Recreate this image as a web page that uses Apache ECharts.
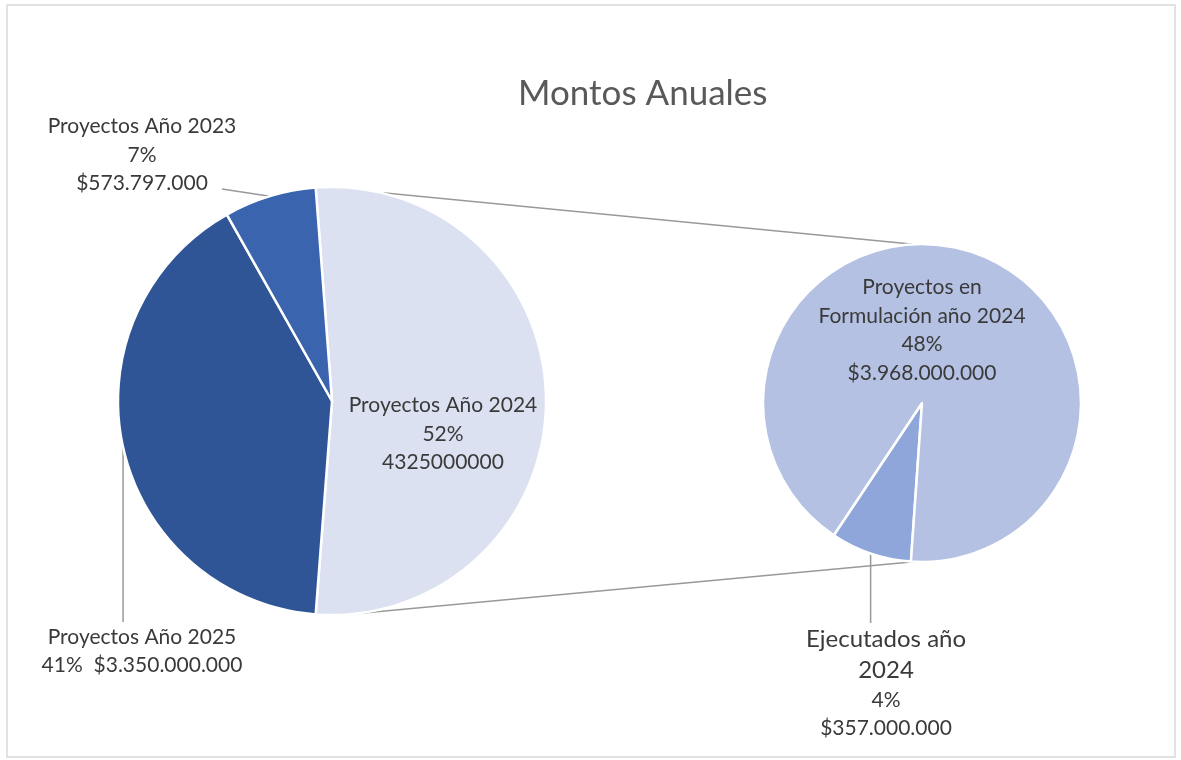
<!DOCTYPE html>
<html><head><meta charset="utf-8">
<script src="https://cdn.jsdelivr.net/npm/echarts@6/dist/echarts.min.js"></script>
<style>html,body{margin:0;padding:0;background:#fff}#c{width:1181px;height:760px}</style>
</head><body><div id="c"></div>
<script>
// ---- data ----
const chartTitle = 'Montos Anuales';
const mainNames = ['Proyectos Año 2024', 'Proyectos Año 2025', 'Proyectos Año 2023'];
const mainValues = [4325000000, 3350000000, 573797000];
const subNames = ['Ejecutados año\n2024', 'Proyectos en\nFormulación año 2024'];
const subValues = [357000000, 3968000000];

// ---- style / layout ----
const mainColors = ['#dbe1f1', '#2f5597', '#3b64ae'];
const subColors = ['#8fa6da', '#b4c1e3'];
const FONT = 'Lato';
const TXT = '#3a3a3a';
const mainCenter = [332, 401], mainR = 214;
const subCenter = [922, 403], subR = 159;

const grandTotal = mainValues.reduce((a, b) => a + b, 0);
const pct = v => Math.round(v / grandTotal * 100) + '%';
const money = v => '$' + String(v).replace(/\B(?=(\d{3})+(?!\d))/g, '.');

const mainLabelText = [
  i => mainNames[i] + '\n' + pct(mainValues[i]) + '\n' + mainValues[i],
  i => mainNames[i] + '\n' + pct(mainValues[i]) + '  ' + money(mainValues[i]),
  i => mainNames[i] + '\n' + pct(mainValues[i]) + '\n' + money(mainValues[i])
];
const subLabelText = [
  i => subNames[i].split('\n').map(s => '{big|' + s + '}').join('\n') + '\n' + pct(subValues[i]) + '\n' + money(subValues[i]),
  i => subNames[i] + '\n' + pct(subValues[i]) + '\n' + money(subValues[i])
];
const mainLabelPos = [[443, 434], [142, 651], [142, 155]];
const subLabelPos = [[886, 683], [922, 330]];

const chart = echarts.init(document.getElementById('c'));

function pt(c, r, deg) {
  const a = deg * Math.PI / 180;
  return [c[0] + r * Math.cos(a), c[1] - r * Math.sin(a)];
}
const t1 = pt(mainCenter, mainR, 77), t2 = pt(subCenter, subR, 93);
const b1 = pt(mainCenter, mainR, -83), b2 = pt(subCenter, subR, -93);

const baseLabel = { fontFamily: FONT, fontSize: 21, color: TXT, lineHeight: 28.5, align: 'center', overflow: 'none' };

chart.setOption({
  animation: false,
  title: {
    text: chartTitle, left: 513, top: 71,
    textStyle: { fontFamily: FONT, fontSize: 35, fontWeight: 'normal', color: '#595959' }
  },
  graphic: [
    { type: 'rect', shape: { x: 7, y: 5, width: 1168, height: 752 }, style: { fill: null, stroke: '#d9d9d9', lineWidth: 1.5 }, z: -1 },
    { type: 'line', shape: { x1: t1[0], y1: t1[1], x2: t2[0], y2: t2[1] }, style: { stroke: '#999', lineWidth: 1.5 } },
    { type: 'line', shape: { x1: b1[0], y1: b1[1], x2: b2[0], y2: b2[1] }, style: { stroke: '#999', lineWidth: 1.5 } }
  ],
  series: [
    {
      type: 'pie', center: mainCenter, radius: mainR,
      startAngle: mainValues[0] / grandTotal * 180, clockwise: true,
      itemStyle: { borderColor: '#fff', borderWidth: 2.5 },
      data: mainNames.map((n, i) => ({
        name: n, value: mainValues[i], itemStyle: { color: mainColors[i] },
        label: { position: i === 0 ? 'inside' : 'outside' },
        labelLine: { show: i !== 0, lineStyle: { color: '#999', width: 1.5 } }
      })),
      label: Object.assign({ formatter: p => mainLabelText[p.dataIndex](p.dataIndex) }, baseLabel),
      labelLayout: function (p) {
        const pos = mainLabelPos[p.dataIndex];
        const o = { x: pos[0], y: pos[1], align: 'center', verticalAlign: 'middle' };
        if (p.labelLinePoints && p.dataIndex !== 0) {
          const a = p.labelLinePoints[0];
          if (p.dataIndex === 1) o.labelLinePoints = [a, [a[0], pos[1] - 29], [a[0], pos[1] - 29]];
          else o.labelLinePoints = [a, [222, 189], [222, 189]];
        }
        return o;
      }
    },
    {
      type: 'pie', center: subCenter, radius: subR,
      startAngle: 266, clockwise: true,
      itemStyle: { borderColor: '#fff', borderWidth: 2.5 },
      data: subNames.map((n, i) => ({
        name: n, value: subValues[i], itemStyle: { color: subColors[i] },
        label: { position: i === 1 ? 'inside' : 'outside' },
        labelLine: { show: i === 0, lineStyle: { color: '#999', width: 1.5 } }
      })),
      label: Object.assign({
        formatter: p => subLabelText[p.dataIndex](p.dataIndex),
        rich: { big: { fontFamily: FONT, fontSize: 24, color: TXT, lineHeight: 31 } }
      }, baseLabel),
      labelLayout: function (p) {
        const pos = subLabelPos[p.dataIndex];
        const o = { x: pos[0], y: pos[1], align: 'center', verticalAlign: 'middle' };
        if (p.labelLinePoints && p.dataIndex === 0) {
          const a = p.labelLinePoints[0];
          o.labelLinePoints = [a, [a[0], 623], [a[0], 623]];
        }
        return o;
      }
    }
  ]
});
</script></body></html>
